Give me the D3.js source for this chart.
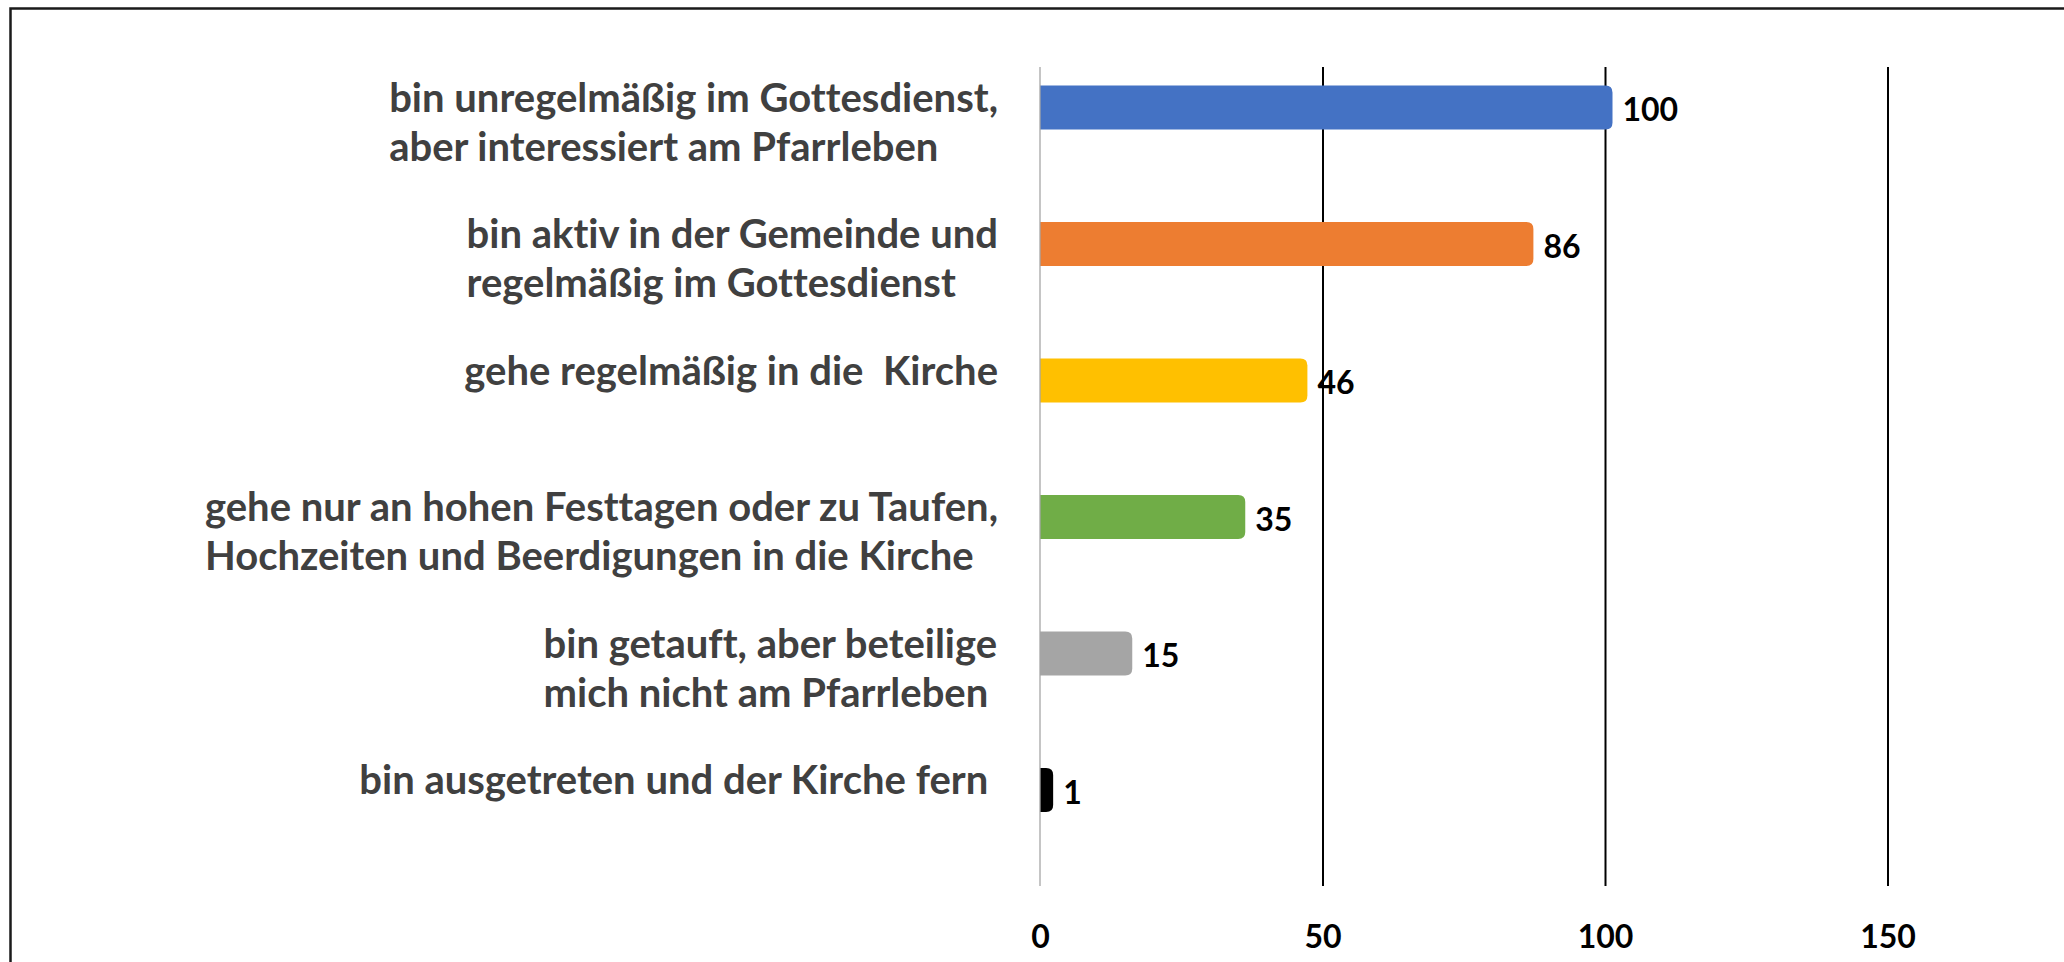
<!DOCTYPE html>
<html>
<head>
<meta charset="utf-8">
<script src="https://cdn.jsdelivr.net/npm/d3@7"></script>
<style>
  html, body { margin: 0; padding: 0; background: #fff; }
  svg { display: block; }
  text { white-space: pre; font-variant-ligatures: none; }
</style>
</head>
<body>
<svg id="chart" width="2064" height="962"></svg>
<script>
// ---- data ----
const categories = [
  ["bin unregelmäßig im Gottesdienst,", "aber interessiert am Pfarrleben"],
  ["bin aktiv in der Gemeinde und", "regelmäßig im Gottesdienst"],
  ["gehe regelmäßig in die  Kirche"],
  ["gehe nur an hohen Festtagen oder zu Taufen,", "Hochzeiten und Beerdigungen in die Kirche"],
  ["bin getauft, aber beteilige", "mich nicht am Pfarrleben "],
  ["bin ausgetreten und der Kirche fern "]
];
const values = [100, 86, 46, 35, 15, 1];
const barColors = ["#4472C4", "#ED7D31", "#FFC000", "#70AD47", "#A5A5A5", "#000000"];
const tickValues = [0, 50, 100, 150];
const tickLabels = ["0", "50", "100", "150"];

// ---- layout ----
const W = 2064, H = 962;
const svg = d3.select("#chart");
const font = "Lato, 'Open Sans', sans-serif";

const x = d3.scaleLinear().domain([0, 150]).range([1040, 1887.5]);
const y = d3.scalePoint().domain(d3.range(categories.length)).range([107.5, 790]);
const barH = 44, ext = 7.5, r = 7;
const gridTop = 67, gridBottom = 886;

// outer frame (left + top visible)
svg.append("path")
  .attr("d", `M10.5,${H} L10.5,8.5 L${W},8.5`)
  .attr("fill", "none").attr("stroke", "#1a1a1a").attr("stroke-width", 2.5);

// gridlines via axis
const grid = svg.append("g").attr("transform", `translate(0,${gridBottom})`)
  .call(d3.axisBottom(x).tickValues(tickValues.slice(1)).tickSize(-(gridBottom - gridTop)).tickFormat(""));
grid.select(".domain").remove();
grid.selectAll(".tick line").attr("stroke", "#000").attr("stroke-width", 2);

// value axis labels
const xAxis = svg.append("g").attr("transform", `translate(0,936)`)
  .call(d3.axisBottom(x).tickValues(tickValues).tickSize(0).tickFormat((d, i) => tickLabels[i]));
xAxis.select(".domain").remove();
xAxis.selectAll("text")
  .attr("y", 0).attr("dy", "0.36em")
  .attr("font-family", font).attr("font-weight", "bold").attr("font-size", 32).attr("fill", "#000");

// bars with rounded right end
function barPath(v) {
  const x0 = x(0), x1 = x(v) + ext;
  return (cy) => {
    const t = cy - barH / 2, b = cy + barH / 2;
    return `M${x0},${t} L${x1 - r},${t} Q${x1},${t} ${x1},${t + r} L${x1},${b - r} Q${x1},${b} ${x1 - r},${b} L${x0},${b} Z`;
  };
}
svg.append("g").selectAll("path").data(values).join("path")
  .attr("d", (d, i) => barPath(d)(y(i)))
  .attr("fill", (d, i) => barColors[i]);

// category axis line
svg.append("line")
  .attr("x1", x(0)).attr("x2", x(0)).attr("y1", gridTop).attr("y2", gridBottom)
  .attr("stroke", "#a6a6a6").attr("stroke-width", 1.3);

// value labels
svg.append("g").selectAll("text").data(values).join("text")
  .attr("x", d => x(d) + ext + 10)
  .attr("y", (d, i) => y(i) + 2)
  .attr("dy", "0.36em")
  .attr("font-family", font).attr("font-weight", "bold").attr("font-size", 32).attr("fill", "#000")
  .text(d => d);

// category labels: block left-aligned, right edge fixed
const labelRight = 998;
const lineGap = 49;
const lg = svg.append("g");
categories.forEach((lines, i) => {
  const t = lg.append("text")
    .attr("font-family", font).attr("font-weight", "bold").attr("font-size", 40).attr("fill", "#404040");
  const spans = lines.map((ln, j) => t.append("tspan").attr("y", y(i) + 4 + j * lineGap).text(ln));
  const maxW = d3.max(spans, s => s.node().getComputedTextLength());
  spans.forEach(s => s.attr("x", labelRight - maxW));
});
</script>
</body>
</html>
